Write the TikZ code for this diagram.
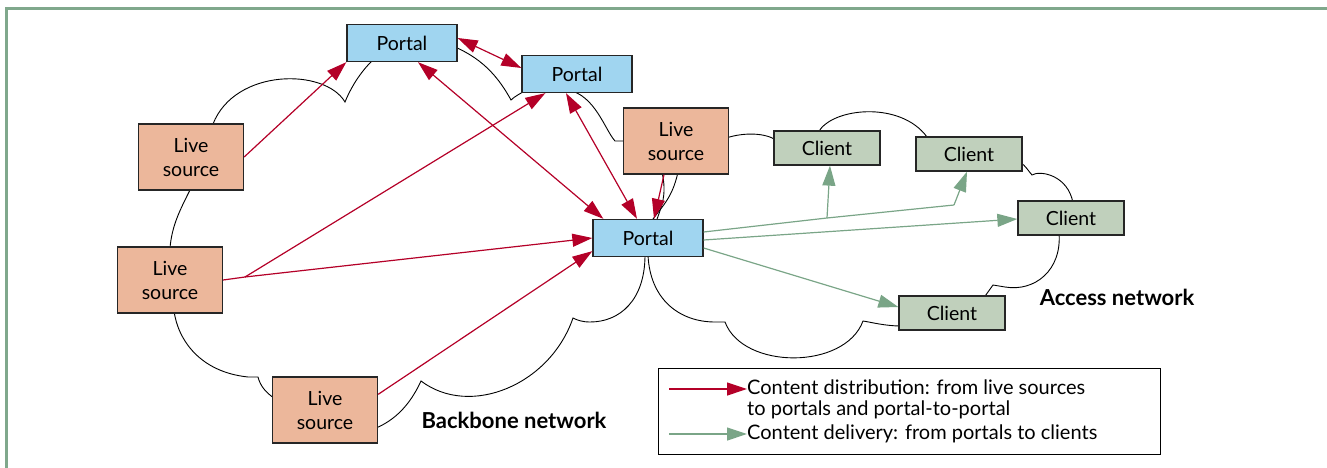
\documentclass[tikz,border=0pt]{standalone}
\usepackage{fontspec}
\setmainfont{Lato}
\usetikzlibrary{arrows.meta,calc}
\definecolor{livefill}{RGB}{236,183,155}
\definecolor{portalfill}{RGB}{160,213,240}
\definecolor{clientfill}{RGB}{192,208,188}
\definecolor{distred}{RGB}{180,0,40}
\definecolor{delgreen}{RGB}{122,165,135}
\definecolor{framegreen}{RGB}{128,168,140}
\begin{document}
\begin{tikzpicture}[x=1pt,y=-1pt,
  font=\fontsize{19.5}{24}\selectfont,
  box/.style={draw=black!85, line width=1.3pt, inner sep=0pt, align=center},
  live/.style={box, fill=livefill, minimum width=105pt, minimum height=66pt},
  portal/.style={box, fill=portalfill, minimum width=110pt, minimum height=37pt},
  client/.style={box, fill=clientfill, minimum width=106pt, minimum height=34pt},
  cloud/.style={draw=black, line width=0.9pt},
  redarr/.style={draw=distred, line width=1.2pt, -{Triangle[length=20pt,width=13pt]}},
  redbi/.style={draw=distred, line width=1.2pt, {Triangle[length=20pt,width=13pt]}-{Triangle[length=20pt,width=13pt]}},
  redline/.style={draw=distred, line width=1.2pt},
  grnarr/.style={draw=delgreen, line width=1.2pt, -{Triangle[length=20pt,width=13pt]}},
  grnline/.style={draw=delgreen, line width=1.2pt},
  lbl/.style={font=\fontsize{22}{24}\selectfont\bfseries},
  legtxt/.style={inner sep=0pt, font=\fontsize{20}{21}\selectfont}
]
\useasboundingbox (0,0) rectangle (1327,468);
% frame
\draw[framegreen, line width=3pt] (6,468) -- (6,9) -- (1327,9);

% backbone cloud
\draw[cloud] (213,124) .. controls (235,68) and (325,68) .. (345,102)
  .. controls (352,85) and (362,70) .. (375,58);
\draw[cloud] (455,47) .. controls (485,60) and (500,80) .. (511,100)
  .. controls (515,96) and (520,94) .. (526,90);
\draw[cloud] (568,90) .. controls (595,95) and (605,130) .. (615,141) -- (626,141);
\draw[cloud] (662,172) .. controls (667,195) and (662,205) .. (656,222);
\draw[cloud] (678,172) .. controls (672,200) and (660,208) .. (651,222);
\draw[cloud] (645,255) .. controls (645,300) and (620,322) .. (590,322)
  .. controls (582,322) and (577,320) .. (573,318)
  .. controls (550,385) and (470,418) .. (421,381)
  .. controls (410,405) and (395,420) .. (376,428);
\draw[cloud] (274,398) .. controls (265,392) and (260,385) .. (258,377) -- (248,377)
  .. controls (200,372) and (178,340) .. (174,311);
\draw[cloud] (191,188) .. controls (180,210) and (172,225) .. (170,248);

% access cloud
\draw[cloud] (726,138) .. controls (745,132) and (765,133) .. (776,140);
\draw[cloud] (818,133) .. controls (830,108) and (900,100) .. (927,137);
\draw[cloud] (1020,162) .. controls (1026,166) and (1029,172) .. (1032,175)
  .. controls (1040,170) and (1068,175) .. (1073,203);
\draw[cloud] (1059,233) .. controls (1062,270) and (1035,292) .. (1005,287)
  -- (993,285) -- (983,299);
\draw[cloud] (901,326) .. controls (885,326) and (870,322) .. (863,321)
  .. controls (845,370) and (743,370) .. (725,322) -- (715,322)
  .. controls (680,322) and (650,300) .. (648,255);

% nodes
\node[portal] (portalA) at (402,43) {Portal};
\node[portal] (portalB) at (577,74) {Portal};
\node[portal] (portalC) at (648,238) {Portal};
\node[live] (liveA) at (191,157) {Live\\source};
\node[live] (liveB) at (170,280) {Live\\source};
\node[live] (liveC) at (325,410) {Live\\source};
\node[live] (liveD) at (676,141) {Live\\source};
\node[client] (client1) at (827,148) {Client};
\node[client] (client2) at (969,154) {Client};
\node[client] (client3) at (1071,218) {Client};
\node[client] (client4) at (952,313) {Client};

\node[lbl] (access) at (1117,297) {Access network};
\node[lbl] (backbone) at (514,420) {Backbone network};

% red arrows
\draw[redarr] (liveA.east) -- (portalA.south west);
\draw[redbi] ($(portalA.east)+(0,-5)$) -- ($(portalB.west)+(0,-6)$);
\draw[redbi] ($(portalA.south)+(16,0)$) -- ($(portalC.north west)+(11,0)$);
\draw[redbi] ($(portalB.south)+(-11,0)$) -- ($(portalC.north)+(-11,0)$);
\coordinate (jb) at (245,277);
\draw[redline] (liveB.east) -- (jb);
\draw[redarr] (jb) -- (portalC.west);
\draw[redarr] (jb) -- ($(portalB.south west)+(24,0)$);
\draw[redarr] ($(liveC.north east)+(0,18)$) -- ($(portalC.south west)+(0,-6)$);
\draw[redarr] ($(liveD.south)+(-12,0)$) -- ($(portalC.north)+(6,0)$);

% green arrows
\coordinate (j1) at (827,218);
\coordinate (j2) at (954,205);
\draw[grnline] ($(portalC.east)+(0,-6)$) -- (j1) -- (j2);
\draw[grnarr] (j2) -- ($(client2.south)+(-2,0)$);
\draw[grnarr] (j1) -- ($(client1.south)+(3,0)$);
\draw[grnarr] ($(portalC.east)+(0,2)$) -- ($(client3.west)+(0,1)$);
\draw[grnarr] ($(portalC.east)+(0,10)$) -- ($(client4.west)+(0,-6)$);

% legend
\node[draw=black, line width=1pt, minimum width=502pt, minimum height=86pt, inner sep=0pt] (legend) at (909,411) {};
\coordinate (r0) at (669,389);
\coordinate (r1) at (747,389);
\coordinate (g0) at (669,434);
\coordinate (g1) at (747,434);
\draw[redarr] (r0) -- (r1);
\draw[grnarr] (g0) -- (g1);
\node[legtxt, anchor=west, align=left] (ltxt1) at ($(r1)+(0,10)$) {Content distribution: from live sources\\to portals and portal-to-portal};
\node[legtxt, anchor=west] (ltxt2) at (g1) {Content delivery: from portals to clients};
\end{tikzpicture}
\end{document}
